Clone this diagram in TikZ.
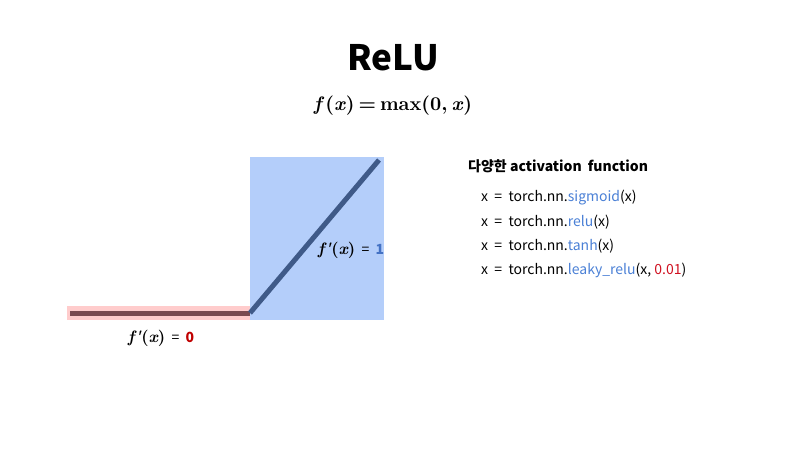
\documentclass[tikz,border=0pt]{standalone}
\usepackage[no-math]{fontspec}
\setmainfont{Noto Sans CJK KR}
\newfontfamily\lmr{lmroman10-regular.otf}[BoldFont=lmroman10-bold.otf,ItalicFont=lmroman10-italic.otf,BoldItalicFont=lmroman10-bolditalic.otf]
\definecolor{boxblue}{HTML}{B4CEFA}
\definecolor{boxpink}{HTML}{FFCCCC}
\definecolor{lineblue}{HTML}{3F5A88}
\definecolor{linered}{HTML}{7A4A50}
\definecolor{codeblue}{HTML}{4A80D6}
\definecolor{codered}{HTML}{D01020}
\definecolor{zerored}{HTML}{C00000}
\definecolor{oneblue}{HTML}{4472C4}
\newcommand{\fpx}{{\lmr\fontsize{16.5}{18}\selectfont\bfseries\itshape f\kern0.8pt'\kern0.3pt\upshape(\itshape x\upshape)}}
\newcommand{\eqs}{\hspace{0.45em}=\hspace{0.45em}}
\newcommand{\tightsp}{\spaceskip=4pt\relax}
\begin{document}
\begin{tikzpicture}[x=1pt,y=-1pt,
  code/.style={anchor=west,inner sep=0pt,font=\fontsize{14}{16}\selectfont},
  lbl/.style={inner sep=0pt,font=\fontsize{14}{16}\selectfont}]
\useasboundingbox[fill=white] (0,0) rectangle (800,450);
\node[inner sep=0pt,font=\fontsize{35}{40}\selectfont\bfseries] (title) at (393,58) {ReLU};
\node[inner sep=0pt,font=\fontsize{19.5}{22}\selectfont\lmr\bfseries] (formula) at (393,106) {\tightsp\textit{f}\kern1pt(\textit{x}) = max(0, \textit{x})};
% boxes
\fill[boxblue] (250,157) rectangle (384,320);
\fill[boxpink] (67,306) rectangle (250,320);
\coordinate (origin) at (250,313);
\coordinate (left) at (70,313);
\coordinate (top) at (379,160);
\draw[linered,line width=5pt] (left) -- (origin);
\draw[lineblue,line width=5pt] (origin) -- (top);
\node[lbl] (d1) at (351,250) {\fpx\eqs\textcolor{oneblue}{\bfseries 1}};
\node[lbl] (d0) at (161,338) {\fpx\eqs\textcolor{zerored}{\bfseries 0}};
% right text
\node[anchor=west,inner sep=0pt,font=\fontsize{14}{16}\selectfont\bfseries] (head) at (468,166) {다양한 activation\hspace{0.2em} function};
\node[code] (c1) at (481,198) {x\eqs torch.nn.\textcolor{codeblue}{sigmoid}(x)};
\node[code] (c2) at (481,222) {x\eqs torch.nn.\textcolor{codeblue}{relu}(x)};
\node[code] (c3) at (481,246) {x\eqs torch.nn.\textcolor{codeblue}{tanh}(x)};
\node[code] (c4) at (481,270) {x\eqs torch.nn.\textcolor{codeblue}{leaky\_relu}(x, \textcolor{codered}{0.01})};
\end{tikzpicture}
\end{document}
